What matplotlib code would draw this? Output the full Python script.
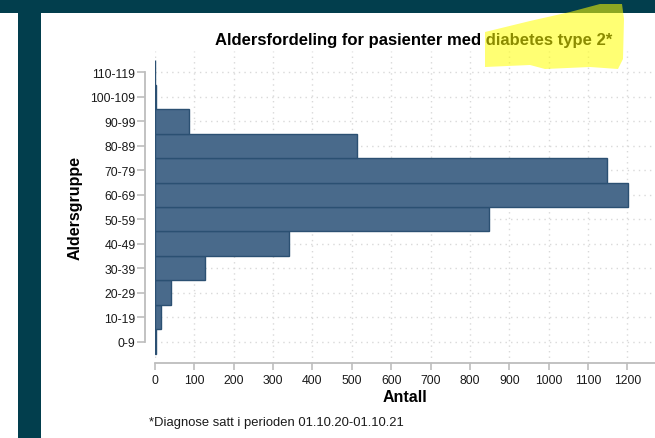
import matplotlib.pyplot as plt
from matplotlib.patches import Rectangle, Polygon

# Data
age_groups = ['0-9', '10-19', '20-29', '30-39', '40-49', '50-59',
              '60-69', '70-79', '80-89', '90-99', '100-109', '110-119']
counts = [2, 15, 41, 128, 341, 849, 1202, 1147, 514, 86, 2, 0]
x_ticks = list(range(0, 1300, 100))

W, H = 655, 439
teal = '#023e4d'
bar_face = '#496a8b'
bar_edge = '#2b5072'
grid_col = '#d9d9d9'
axis_col = '#bdbdbd'
text_col = '#1a1a1a'

plt.rcParams['font.family'] = ['Liberation Sans', 'DejaVu Sans']

fig = plt.figure(figsize=(W / 100, H / 100), dpi=100)


def px(x, y):
    # pixel coordinates -> figure fraction
    return (x / W, 1 - y / H)


# screenshot frame
fig.add_artist(Rectangle(px(0, 14), 1, 14 / H, transform=fig.transFigure,
                         facecolor=teal, edgecolor='none', zorder=0))
fig.add_artist(Rectangle(px(18, H), 23 / W, (H - 14) / H, transform=fig.transFigure,
                         facecolor=teal, edgecolor='none', zorder=0))

# axes area: x=155..655, y=52..364
left, right = 155, 655
top, bottom = 52, 364
ax = fig.add_axes([left / W, 1 - bottom / H, (right - left) / W, (bottom - top) / H])

ax.barh(range(len(age_groups)), counts, height=1.0, color=bar_face,
        edgecolor=bar_edge, linewidth=1.0, zorder=3)

ax.set_xlim(0, 1270)
ax.set_ylim(-0.87, 11.87)
ax.set_xticks(x_ticks)
ax.set_yticks(range(len(age_groups)))
ax.set_yticklabels(age_groups)

ax.grid(True, color=grid_col, linestyle=(0, (1, 3)), linewidth=1.0, zorder=0)

for s in ['top', 'right']:
    ax.spines[s].set_visible(False)
ax.spines['left'].set_position(('outward', 7))
ax.spines['left'].set_bounds(0, 11)
ax.spines['left'].set_color(axis_col)
ax.spines['bottom'].set_color(axis_col)
ax.spines['left'].set_linewidth(1.3)
ax.spines['bottom'].set_linewidth(1.3)

ax.tick_params(axis='y', length=6, width=1.2, color=axis_col, pad=1,
               labelsize=8.8, labelcolor=text_col)
ax.tick_params(axis='x', length=5, width=1.2, color=axis_col, pad=3,
               labelsize=8.8, labelcolor=text_col)

ax.set_xlabel('Antall', fontsize=11.5, fontweight='bold', labelpad=2)
ax.set_ylabel('Aldersgruppe', fontsize=11.5, fontweight='bold', labelpad=6)

fig.text(*px(414, 41), 'Aldersfordeling for pasienter med diabetes type 2*',
         fontsize=12, fontweight='bold', ha='center', va='center', color='black')
fig.text(*px(149, 423), '*Diagnose satt i perioden 01.10.20-01.10.21',
         fontsize=9.4, ha='left', va='center', color=text_col)

# highlighter stroke
hl = [(485, 33), (530, 22), (570, 13), (600, 5), (622, 5), (624, 20), (623, 60),
      (618, 70), (590, 68), (545, 70), (530, 66), (485, 68)]
fig.add_artist(Polygon([px(x, y) for x, y in hl], closed=True, transform=fig.transFigure,
                       facecolor='#ffff00', edgecolor='none', alpha=0.55, zorder=10))

fig.savefig('out.png', dpi=100)
